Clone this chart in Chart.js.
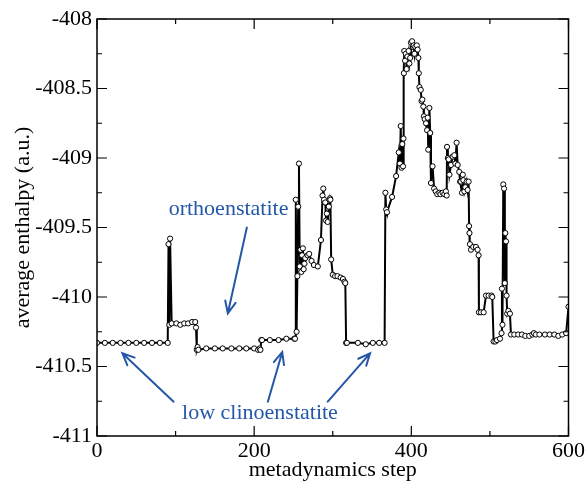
<!DOCTYPE html>
<html>
<head>
<meta charset="utf-8">
<script src="https://cdn.jsdelivr.net/npm/chart.js@4/dist/chart.umd.min.js"></script>
<style>
html,body{margin:0;padding:0;background:#fff;}
canvas{display:block;}
</style>
</head>
<body>
<canvas id="c" width="587" height="483"></canvas>
<script>
// ---- data ----
const steps = [
  0,10,20,30,40,50,60,70,80,90,
  91,92,93,95,
  101,106,111,116,121,125,126,127,128,129,
  139,150,160,171,181,190,200,205,207,208,209,
  210,220,231,241,251,252,253,254,255,256,257,
  258,259,260,261,262,263,264,265,268,270,273,276,281,285,287,288,289,290.5,291.5,292.5,293.5,295,296.5,297,298,300,303,306,310,313,315,316,317,
  318,332,342,351,359,366,
  367,368,369,375.5,380.6,384,385.5,386.5,387.5,388.5,389.5,390,390.5,391,392,393,394,395,396.5,397.5,398.5,399.5,401,402,403,404,405,407,408,409,409.5,410.3,412,413,414,415.3,416,417,418.7,420,420.8,421.5,423,424,425,427,429,431,433,435.6,437,439.8,442,444,445,445.4,446.5,447.5,448.5,450.5,452.6,454.7,456,457.6,459,461,462,463.2,464.5,465.5,466.2,467.5,468.7,470.4,471.6,472.9,473.5,474,474.6,475.9,478.8,482.2,484.3,485.6,
  486,488.6,492,495,498.3,502,503,504.7,507,509,512.8,514.8,515.3,516,517,518,519,519.6,520.5,521.2,522,523.5,525.5,526.8,
  531,536,540.7,545,550,554,556,558.5,563,570,576,582,587,592,597,600
];
const enthalpy = [
  -410.33,-410.33,-410.33,-410.33,-410.33,-410.33,-410.33,-410.33,-410.33,-410.33,
  -409.62,-410.20,-409.58,-410.19,
  -410.19,-410.20,-410.19,-410.19,-410.18,-410.18,-410.22,-410.38,-410.36,-410.38,
  -410.37,-410.37,-410.37,-410.37,-410.37,-410.37,-410.37,-410.38,-410.37,-410.38,-410.31,
  -410.31,-410.31,-410.31,-410.30,-410.30,-410.30,-409.30,-410.25,-409.85,-409.35,-409.04,
  -409.78,-409.66,-409.82,-409.70,-409.65,-409.80,-409.76,-409.72,-409.70,-409.69,-409.74,-409.77,-409.78,-409.59,-409.27,-409.22,-409.30,-409.32,-409.45,-409.40,-409.46,-409.35,-409.29,-409.30,-409.73,-409.84,-409.85,-409.85,-409.86,-409.87,-409.89,-409.90,-410.33,
  -410.33,-410.33,-410.34,-410.33,-410.33,-410.33,
  -409.25,-409.37,-409.39,-409.28,-409.13,-408.96,-409.04,-408.77,-409.07,-408.90,-409.06,-408.86,-408.39,-408.23,-408.30,-408.25,-408.36,-408.27,-408.23,-408.32,-408.28,-408.17,-408.16,-408.20,-408.19,-408.25,-408.20,-408.19,-408.22,-408.28,-408.39,-408.49,-408.51,-408.59,-408.58,-408.63,-408.70,-408.72,-408.75,-408.80,-408.71,-408.94,-408.64,-408.82,-409.18,-409.06,-409.22,-409.24,-409.26,-409.25,-409.26,-409.25,-409.26,-409.24,-409.27,-408.92,-409.00,-409.01,-409.12,-409.05,-408.99,-408.98,-409.04,-408.89,-409.05,-409.10,-409.17,-409.17,-409.25,-409.12,-409.16,-409.24,-409.21,-409.17,-409.23,-409.17,-409.49,-409.54,-409.62,-409.66,-409.64,-409.64,-409.66,-409.70,
  -410.11,-410.11,-410.11,-409.99,-409.99,-409.99,-410.00,-410.32,-410.32,-410.31,-410.30,-410.26,-409.94,-410.20,-409.19,-409.22,-409.90,-409.54,-409.60,-409.99,-410.12,-410.10,-410.12,-410.27,
  -410.27,-410.27,-410.27,-410.28,-410.28,-410.27,-410.26,-410.27,-410.27,-410.27,-410.27,-410.27,-410.28,-410.27,-410.26,-410.07
];
const xTicks = [0, 200, 400, 600];
const yTicks = [-411, -410.5, -410, -409.5, -409, -408.5, -408];
const xTitle = 'metadynamics step';
const yTitle = 'average enthalpy (a.u.)';
const labelTexts = ['orthoenstatite', 'low clinoenstatite'];
const labelAnchors = [[167.4, -409.41], [207.4, -410.878]];          // [step, enthalpy]
const arrowFrom = [[190.7, -409.50], [97.5, -410.753], [217.4, -410.753], [293.6, -410.753]];
const arrowTo   = [[166.5, -410.117], [32.3, -410.405], [235.7, -410.397], [347.5, -410.405]];

// ---- chart ----
const FONT = '"Liberation Serif", "Times New Roman", serif';
const BLUE = '#2457a8';
const points = steps.map((s, i) => ({x: s, y: enthalpy[i]}));

const framePlugin = {
  id: 'frame',
  afterDatasetsDraw(chart) {
    const {ctx, chartArea: a, scales: {x, y}} = chart;
    ctx.save();
    ctx.strokeStyle = '#000';
    ctx.lineWidth = 1.5;
    ctx.strokeRect(a.left, a.top, a.right - a.left, a.bottom - a.top);
    ctx.lineWidth = 1.2;
    ctx.beginPath();
    for (let v = 0; v <= 600; v += 100) {
      const p = x.getPixelForValue(v);
      const L = (v % 200 === 0) ? 10 : 5;
      ctx.moveTo(p, a.bottom); ctx.lineTo(p, a.bottom - L);
      ctx.moveTo(p, a.top); ctx.lineTo(p, a.top + L);
    }
    for (let k = 0; k <= 12; k++) {
      const v = -411 + k * 0.25;
      const p = y.getPixelForValue(v);
      const L = (k % 2 === 0) ? 10 : 5;
      ctx.moveTo(a.left, p); ctx.lineTo(a.left + L, p);
      ctx.moveTo(a.right, p); ctx.lineTo(a.right - L, p);
    }
    ctx.stroke();

    // annotations
    ctx.fillStyle = BLUE;
    ctx.strokeStyle = BLUE;
    ctx.font = '22px ' + FONT;
    ctx.textAlign = 'center';
    ctx.textBaseline = 'alphabetic';
    labelTexts.forEach((t, i) => {
      ctx.fillText(t, x.getPixelForValue(labelAnchors[i][0]), y.getPixelForValue(labelAnchors[i][1]));
    });
    ctx.lineWidth = 2;
    ctx.lineCap = 'round';
    arrowFrom.forEach((f, i) => {
      const x0 = x.getPixelForValue(f[0]), y0 = y.getPixelForValue(f[1]);
      const x1 = x.getPixelForValue(arrowTo[i][0]), y1 = y.getPixelForValue(arrowTo[i][1]);
      const ang = Math.atan2(y1 - y0, x1 - x0);
      const h = 13, s = 0.42;
      ctx.beginPath();
      ctx.moveTo(x0, y0); ctx.lineTo(x1, y1);
      ctx.moveTo(x1 - h * Math.cos(ang - s), y1 - h * Math.sin(ang - s));
      ctx.lineTo(x1, y1);
      ctx.lineTo(x1 - h * Math.cos(ang + s), y1 - h * Math.sin(ang + s));
      ctx.stroke();
    });
    ctx.restore();
  }
};

new Chart(document.getElementById('c'), {
  type: 'line',
  data: {
    datasets: [{
      data: points,
      borderColor: '#000',
      borderWidth: 2,
      pointRadius: 2.6,
      pointBorderWidth: 1,
      pointBorderColor: '#000',
      pointBackgroundColor: '#fff',
      tension: 0,
      fill: false
    }]
  },
  options: {
    responsive: false,
    devicePixelRatio: 1,
    animation: false,
    events: [],
    layout: {padding: {left: 0, right: 18, top: 19, bottom: 0}},
    plugins: {legend: {display: false}, tooltip: {enabled: false}},
    scales: {
      x: {
        type: 'linear', min: 0, max: 600,
        afterBuildTicks: s => { s.ticks = xTicks.map(v => ({value: v})); },
        afterFit: s => { s.height = 47; },
        grid: {display: false, drawTicks: false},
        border: {display: false},
        ticks: {color: '#000', font: {family: FONT, size: 22}, padding: 2, maxRotation: 0,
                callback: v => String(v)},
        title: {display: true, text: xTitle, color: '#000', font: {family: FONT, size: 22}, padding: {top: 0, bottom: 0}}
      },
      y: {
        type: 'linear', min: -411, max: -408,
        afterBuildTicks: s => { s.ticks = yTicks.map(v => ({value: v})); },
        afterFit: s => { s.width = 97; },
        grid: {display: false, drawTicks: false},
        border: {display: false},
        ticks: {color: '#000', font: {family: FONT, size: 22}, padding: 5,
                callback: v => String(v)},
        title: {display: true, text: yTitle, color: '#000', font: {family: FONT, size: 22}, padding: {top: 10, bottom: 0}}
      }
    }
  },
  plugins: [framePlugin]
});
</script>
</body>
</html>
